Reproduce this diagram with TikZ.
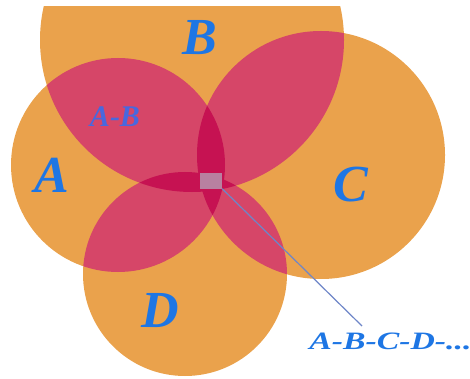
\documentclass[tikz,border=0pt]{standalone}
\usepackage{fontspec}
\setmainfont{Liberation Serif}
\usetikzlibrary{positioning}

\definecolor{setorange}{RGB}{234,162,76}
\definecolor{pairpink}{RGB}{214,70,104}
\definecolor{coredark}{RGB}{198,18,82}
\definecolor{labelblue}{RGB}{30,118,228}
\definecolor{pairblue}{RGB}{72,104,222}
\definecolor{pointerblue}{RGB}{110,134,200}
\definecolor{coregray}{RGB}{184,128,160}

\newcommand{\circA}{(118,165) circle[radius=107]}
\newcommand{\circB}{(192,40) circle[radius=152]}
\newcommand{\circC}{(321,155) circle[radius=124]}
\newcommand{\circD}{(185,274) circle[radius=102]}

\tikzset{
    setlabel/.style={text=labelblue, font=\fontsize{52}{52}\selectfont\bfseries\itshape, inner sep=0pt},
    pairlabel/.style={text=pairblue, font=\fontsize{30}{30}\selectfont\bfseries\itshape, inner sep=0pt},
    alllabel/.style={text=labelblue, font=\fontsize{25}{25}\selectfont\bfseries\itshape, inner sep=0pt, xscale=1.35}
}

\begin{document}
\begin{tikzpicture}[x=1pt, y=-1pt]
    \useasboundingbox (0,0) rectangle (470,379);

    \begin{scope}
        \clip (0,7) rectangle (470,379);
        % Circles
        \fill[setorange] \circA;
        \fill[setorange] \circB;
        \fill[setorange] \circC;
        \fill[setorange] \circD;

        % Neighbouring pairs
        \begin{scope} \clip \circA; \fill[pairpink] \circB; \fill[pairpink] \circD; \end{scope}
        \begin{scope} \clip \circC; \fill[pairpink] \circB; \fill[pairpink] \circD; \end{scope}

        % Opposite pairs
        \begin{scope} \clip \circA; \fill[coredark] \circC; \end{scope}
        \begin{scope} \clip \circB; \fill[coredark] \circD; \end{scope}
    \end{scope}

    % Labels
    \node[setlabel] (lA) at (52,175) {A};
    \node[setlabel] (lB) at (200,38) {B};
    \node[setlabel] (lC) at (351,185) {C};
    \node[setlabel] (lD) at (160,311) {D};
    \node[pairlabel] (lAB) at (115,117) {A-B};

    % Common part
    \node[fill=coregray, minimum width=22pt, minimum height=15pt, inner sep=0pt] (core) at (211,181) {};
    \node[alllabel, anchor=west] (lall) at (309,341) {A-B-C-D-...};
    \coordinate (tip) at (362,326);
    \draw[pointerblue, line width=1.2pt] (core.south east) -- (tip);
\end{tikzpicture}
\end{document}
